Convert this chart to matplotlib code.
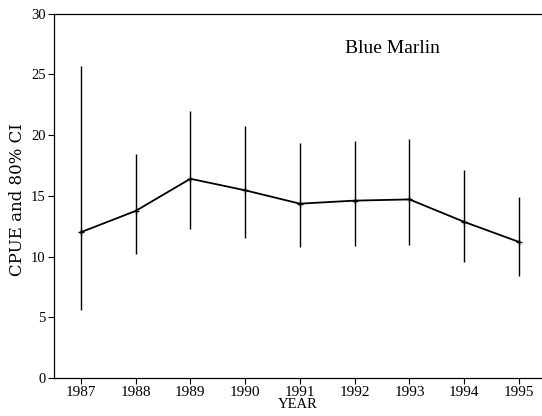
import matplotlib
matplotlib.use('Agg')
import matplotlib.pyplot as plt
import numpy as np

# CPUE by year with 80% confidence limits
years = [1987, 1988, 1989, 1990, 1991, 1992, 1993, 1994, 1995]
cpue = [12.0, 13.75, 16.4, 15.45, 14.35, 14.6, 14.7, 12.85, 11.2]
ci_low = [5.6, 10.2, 12.25, 11.5, 10.75, 10.9, 10.95, 9.55, 8.4]
ci_high = [25.7, 18.4, 22.0, 20.75, 19.35, 19.5, 19.65, 17.15, 14.9]

plt.rcParams['font.family'] = ['Liberation Serif', 'DejaVu Serif']

fig = plt.figure(figsize=(5.42, 4.16), dpi=100)
ax = fig.add_axes([0.0996, 0.0913, 0.8984, 0.8762])

cpue = np.array(cpue)
yerr = [cpue - np.array(ci_low), np.array(ci_high) - cpue]
ax.errorbar(years, cpue, yerr=yerr, fmt='none', ecolor='black',
            elinewidth=1.0, capsize=0)
ax.plot(years, cpue, color='black', linewidth=1.3, marker='+',
        markersize=5, markeredgewidth=1.0)

ax.set_xlim(1986.51, 1995.4)
ax.set_ylim(0, 30)
ax.set_xticks(years)
ax.set_xticklabels([str(y) for y in years], fontsize=11)
ax.set_yticks(range(0, 31, 5))
ax.set_yticklabels([str(v) for v in range(0, 31, 5)], fontsize=10.5)
ax.tick_params(direction='out', length=4, width=0.8, pad=2)

ax.spines['right'].set_visible(False)
for s in ['left', 'bottom', 'top']:
    ax.spines[s].set_linewidth(0.9)

ax.set_xlabel('YEAR', fontsize=10.5, labelpad=-1)
ax.set_ylabel('CPUE and 80% CI', fontsize=12, family='DejaVu Serif')
ax.yaxis.set_label_coords(-0.0575, 0.49)

ax.text(0.597, 0.905, 'Blue Marlin', transform=ax.transAxes, fontsize=14,
        ha='left', va='center')

fig.savefig('out.png', dpi=100)
